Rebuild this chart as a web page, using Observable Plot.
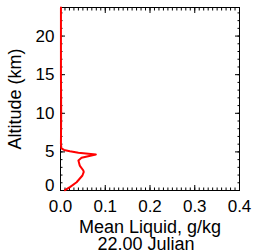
<!DOCTYPE html>
<html><head><meta charset="utf-8">
<script src="https://cdn.jsdelivr.net/npm/d3@7"></script>
<script src="https://cdn.jsdelivr.net/npm/@observablehq/plot@0.6"></script>
<style>body{margin:0;background:#fff} svg{display:block}</style>
</head><body><div id="chart"></div>
<script>
// Mean liquid water (g/kg) by altitude (km)
const liquid   = [0.010, 0.021, 0.036, 0.049, 0.052, 0.051, 0.043, 0.040, 0.047, 0.079, 0.040, 0.021, 0.008, 0.002, 0.001, 0.0015, 0.001, 0.001, 0.001];
const altitude = [0.05,  0.43,  1.07,  1.94,  2.40,  2.59,  3.23,  3.88,  4.23,  4.66,  4.90,  5.09,  5.25,  5.45,  6.0,   10.0,   15.0,  20.0,  23.7];
const xTicks = [0, 0.1, 0.2, 0.3, 0.4];
const yTicks = [5, 10, 15, 20];
const yTickBottom = [0];
const xTitle = "Mean Liquid, g/kg";
const subTitle = "22.00 Julian";
const yTitle = "Altitude (km)";

const data = liquid.map((v, i) => ({liquid: v, altitude: altitude[i]}));
const xMinor = d3.range(0, 41).map(i => i / 100);
const yMinor = d3.range(0, 24);
const yMajor = yTickBottom.concat(yTicks);
const font = "'Liberation Sans', Arial, Helvetica, sans-serif";
const none = () => "";

const chart = Plot.plot({
  width: 254,
  height: 251,
  marginLeft: 60,
  marginRight: 15,
  marginTop: 7,
  marginBottom: 61,
  style: {fontFamily: font, fontSize: "17px", color: "black", background: "white"},
  x: {domain: [0, 0.4]},
  y: {domain: [0, 23.7]},
  marks: [
    // inward minor ticks
    Plot.axisX(xMinor, {anchor: "bottom", tickSize: -2.5, tickFormat: none, label: null}),
    Plot.axisX(xMinor, {anchor: "top", tickSize: -2.5, tickFormat: none, label: null}),
    Plot.axisY(yMinor, {anchor: "left", tickSize: -2.5, tickFormat: none, label: null}),
    Plot.axisY(yMinor, {anchor: "right", tickSize: -2.5, tickFormat: none, label: null}),
    // inward major ticks
    Plot.axisX(xTicks, {anchor: "bottom", tickSize: -5, tickFormat: none, label: null}),
    Plot.axisX(xTicks, {anchor: "top", tickSize: -5, tickFormat: none, label: null}),
    Plot.axisY(yMajor, {anchor: "left", tickSize: -5, tickFormat: none, label: null}),
    Plot.axisY(yMajor, {anchor: "right", tickSize: -5, tickFormat: none, label: null}),
    // labels
    Plot.axisX(xTicks, {anchor: "bottom", tickSize: 0, tickPadding: 9, tickFormat: d3.format(".1f"), label: null, fontSize: 17}),
    Plot.axisY(yTicks, {anchor: "left", tickSize: 0, tickPadding: 6, tickFormat: d3.format("d"), label: null, fontSize: 17}),
    Plot.axisY(yTickBottom, {anchor: "left", tickSize: 0, tickPadding: 6, tickFormat: d3.format("d"), label: null, fontSize: 17, dy: -5}),
    Plot.frame({stroke: "black", strokeWidth: 1}),
    Plot.line(data, {x: "liquid", y: "altitude", stroke: "#ff0000", strokeWidth: 2, curve: "linear"}),
    Plot.text([xTitle], {frameAnchor: "bottom", dy: 37, text: d => d, fontSize: 18, lineAnchor: "middle"}),
    Plot.text([subTitle], {frameAnchor: "bottom", dy: 54, dx: -4, text: d => d, fontSize: 18, lineAnchor: "middle"}),
    Plot.text([yTitle], {frameAnchor: "left", dx: -45, rotate: -90, text: d => d, fontSize: 18, lineAnchor: "middle", textAnchor: "middle"})
  ]
});
document.getElementById("chart").append(chart);
</script>
</body></html>
